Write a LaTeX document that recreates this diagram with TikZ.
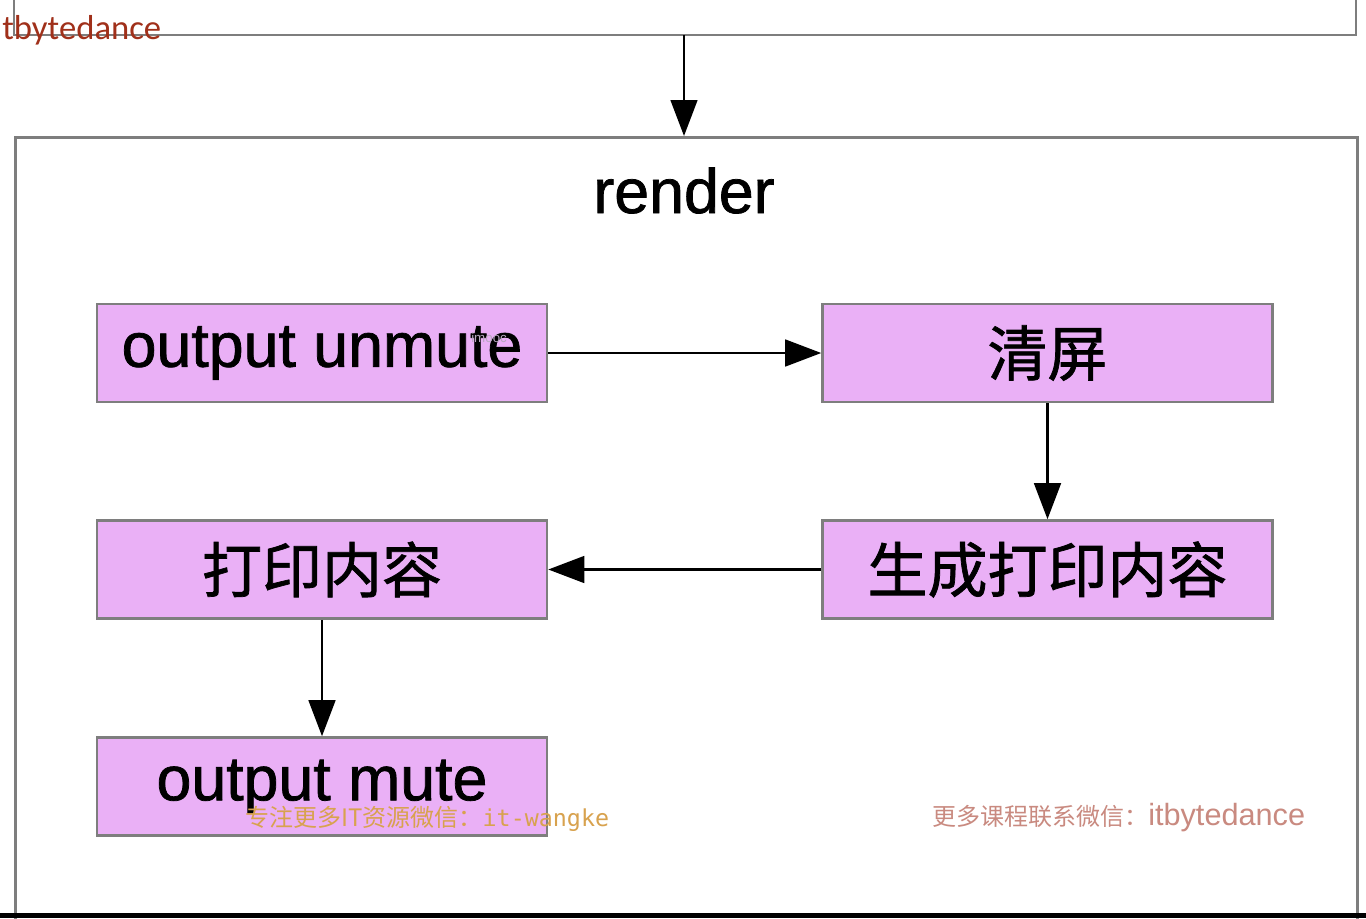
\documentclass[tikz,border=0pt]{standalone}
\usepackage{fontspec}
\setmainfont{Liberation Sans}
\newfontfamily\boxlatin[FakeBold=1.2]{Liberation Sans}
\newfontfamily\cjk{Noto Sans CJK SC}
\newfontfamily\cjkbox[FakeBold=1.2]{Noto Sans CJK SC}
\newfontfamily\wmfont{Carlito}
\newfontfamily\wmmono{DejaVu Sans Mono}
\usetikzlibrary{arrows.meta}
\definecolor{boxfill}{HTML}{EAB0F6}
\definecolor{boxline}{HTML}{7E7E7E}
\definecolor{wmred}{HTML}{A0301A}
\definecolor{wmrose}{HTML}{C98A80}
\definecolor{wmgold}{HTML}{D8A24E}
\definecolor{wmimooc}{HTML}{B8A8C0}
\tikzset{
  stepbox/.style={draw=boxline, line width=1.9pt, fill=boxfill,
    minimum width=337.5pt, minimum height=73.5pt, inner sep=0pt, text=black},
  frame/.style={draw=boxline, line width=2.2pt},
  flow/.style={draw=black, line width=1.9pt,
    -{Triangle[length=27pt, width=20pt]}},
  latin/.style={font=\boxlatin\fontsize{47}{50}\selectfont},
  han/.style={font=\cjkbox\fontsize{45}{48}\selectfont},
}
\begin{document}
\begin{tikzpicture}[x=0.75pt, y=-0.75pt]
\useasboundingbox[fill=white] (0,0) rectangle (1366,918);

% top partial box
\draw[frame] (14,-5) -- (14,35) -- (1356,35) -- (1356,-5);
\coordinate (topout) at (684,35);

% render outer box
\node[frame, minimum width=1006.5pt, minimum height=600pt, anchor=north west, inner sep=0pt] (renderbox) at (14,136) {};
\node[anchor=base, font=\boxlatin\fontsize{47}{50}\selectfont] (title) at (684,213) {render};

% step boxes
\node[stepbox, latin] (unmute) at (322,353) {output unmute};
\node[stepbox, han] (clear) at (1047.5,353) {清屏};
\node[stepbox, han] (gen) at (1047.5,569.5) {生成打印内容};
\node[stepbox, han] (print) at (322,569.5) {打印内容};
\node[stepbox, latin] (mute) at (322,786.5) {output mute};

% connectors
\draw[flow] (topout) -- (topout |- renderbox.north);
\draw[flow] (unmute.east) -- (clear.west);
\draw[flow] (clear.south) -- (gen.north);
\draw[flow] (gen.west) -- (print.east);
\draw[flow] (print.south) -- (mute.north);

% bottom black band
\fill[black] (0,913) rectangle (1366,918);

% watermarks
\node[anchor=west, text=wmred, font=\wmfont\fontsize{26}{28}\selectfont, inner sep=0pt] (wm1) at (2,30) {tbytedance};
\node[anchor=west, text=wmimooc, font=\fontsize{10}{11}\selectfont, inner sep=0pt] (wm2) at (471,338) {imooc};
\node[anchor=west, text=wmgold, font=\cjk\fontsize{18}{20}\selectfont, inner sep=0pt] (wm3) at (245,819) {专注更多IT资源微信：{\wmmono\fontsize{17.5}{19}\selectfont it-wangke}};
\node[anchor=west, text=wmrose, font=\cjk\fontsize{18}{20}\selectfont, inner sep=0pt] (wm4) at (932,818) {更多课程联系微信：{\fontspec{Liberation Sans}\fontsize{23}{24}\selectfont itbytedance}};
\end{tikzpicture}
\end{document}
